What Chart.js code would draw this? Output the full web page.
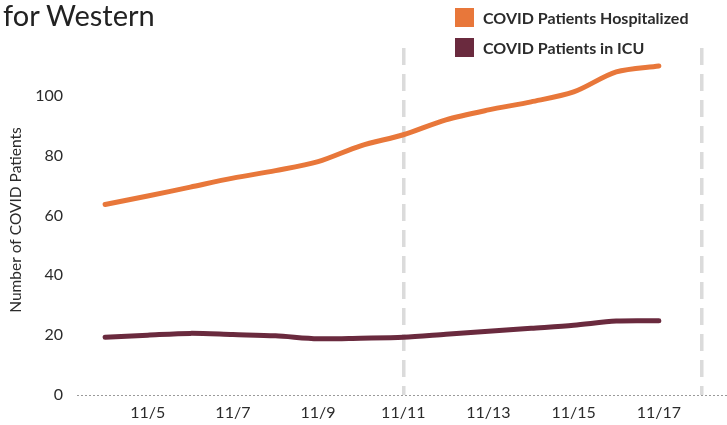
<!DOCTYPE html>
<html>
<head>
<meta charset="utf-8">
<script src="https://cdn.jsdelivr.net/npm/chart.js@4/dist/chart.umd.min.js"></script>
<style>
body{margin:0;background:#fff;}
#wrap{position:relative;width:727px;height:425px;}
#title{position:absolute;left:3px;top:-3px;font:29px Lato;color:#222;}
#legend{position:absolute;left:455px;top:2px;font:bold 16px Lato;color:#2b2b2b;}
.item{display:flex;align-items:center;height:30px;}
.box{width:19px;height:19px;margin-right:9px;flex:none;}
</style>
</head>
<body>
<div id="wrap">
  <canvas id="chart" width="727" height="425"></canvas>
  <div id="title">for Western</div>
  <div id="legend"></div>
</div>
<script>
// DATA
const days = [4, 5, 6, 7, 8, 9, 10, 11, 12, 13, 14, 15, 16, 17];
const hospitalized = [63.7, 66.5, 69.5, 72.5, 75, 78, 83.3, 87, 92, 95.3, 98, 101.3, 108, 110];
const icu = [19.3, 20, 20.6, 20.2, 19.8, 18.8, 19, 19.3, 20.3, 21.3, 22.3, 23.3, 24.7, 24.8];
const xTicks = [5, 7, 9, 11, 13, 15, 17];
const weekLines = [11, 18];
const yTicks = [0, 20, 40, 60, 80, 100];

const seriesNames = ['COVID Patients Hospitalized', 'COVID Patients in ICU'];
const seriesColors = ['#e8773a', '#6a2a3e'];

const ctx = document.getElementById('chart').getContext('2d');

function points(values){
    return days.map((d, i) => ({x: d, y: values[i]}));
}

const chart = new Chart(ctx, {
    type: 'line',
    data: {
        datasets: [hospitalized, icu].map((vals, i) => ({
            label: seriesNames[i],
            data: points(vals),
            borderColor: seriesColors[i],
            backgroundColor: seriesColors[i],
            borderWidth: 5,
            borderCapStyle: 'round',
            pointRadius: 0,
            tension: 0.3
        }))
    },
    options: {
        responsive: false,
        animation: false,
        layout: {padding: {top: 45, right: 0, bottom: 3, left: 0}},
        plugins: {legend: {display: false}, tooltip: {enabled: false}},
        scales: {
            x: {
                type: 'linear',
                min: 3.34,
                max: 18.6,
                z: 1,
                afterBuildTicks: s => { s.ticks = xTicks.concat([18]).map(v => ({value: v})); },
                afterFit: s => { s.height = 27; },
                ticks: {
                    padding: 8,
                    color: '#2b2b2b',
                    font: {family: 'Lato', size: 16},
                    callback: v => xTicks.includes(v) ? '11/' + v : ''
                },
                grid: {
                    drawTicks: false,
                    lineWidth: 3.5,
                    color: c => (c.tick && weekLines.includes(c.tick.value)) ? 'rgba(195,195,195,0.6)' : 'transparent'
                },
                border: {display: false, dash: [17, 9], dashOffset: -3}
            },
            y: {
                min: 0,
                max: 117,
                afterBuildTicks: s => { s.ticks = yTicks.map(v => ({value: v})); },
                afterFit: s => { s.width = 77; },
                ticks: {
                    padding: 14,
                    color: '#2b2b2b',
                    font: {family: 'Lato', size: 16}
                },
                grid: {
                    drawTicks: false,
                    lineWidth: 1,
                    color: c => (c.tick && c.tick.value === 0) ? '#9a9a9a' : 'transparent'
                },
                border: {display: false, dash: [2, 2]},
                title: {
                    display: true,
                    text: 'Number of COVID Patients',
                    color: '#2b2b2b',
                    font: {family: 'Lato', size: 15.5},
                    padding: {top: 7, bottom: 4}
                }
            }
        }
    }
});

// LEGEND
const legend = document.getElementById('legend');
chart.data.datasets.forEach(ds => {
    const item = document.createElement('div');
    item.className = 'item';
    item.innerHTML = `<span class="box" style="background:${ds.borderColor}"></span>${ds.label}`;
    legend.appendChild(item);
});
</script>
</body>
</html>
